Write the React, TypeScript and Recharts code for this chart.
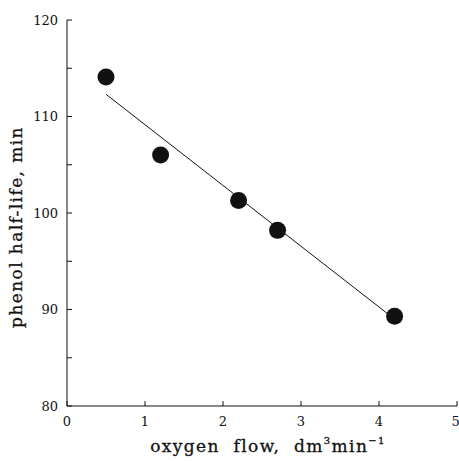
import { ComposedChart, Line, Scatter, XAxis, YAxis, Label } from "recharts";

// measured points: oxygen flow (dm3/min) vs phenol half-life (min)
const flow = [0.5, 1.2, 2.2, 2.7, 4.2];
const halfLife = [114.1, 106.0, 101.3, 98.2, 89.3];

// fitted line end points
const fitFlow = [0.5, 4.2];
const fitHalfLife = [112.3, 89.0];

const xTicks = [0, 1, 2, 3, 4, 5];
const yTicks = [80, 85, 90, 95, 100, 105, 110, 115, 120];

const points = flow.map((x, i) => ({ x, y: halfLife[i] }));
const fit = fitFlow.map((x, i) => ({ x, y: fitHalfLife[i] }));

const font = "'DejaVu Serif', 'Liberation Serif', serif";
const ink = "#111";

const Dot = (props: any) => <circle cx={props.cx} cy={props.cy} r={8.5} fill={ink} />;

const XTitle = (props: any) => {
  const vb = props.viewBox;
  return (
    <text
      x={vb.x + vb.width / 2 + 6}
      y={vb.y + 46}
      textAnchor="middle"
      fontFamily={font}
      fontSize={17}
      letterSpacing={1.4}
      fill={ink}
      stroke={ink}
      strokeWidth={0.3}
    >
      oxygen&#160; flow,&#160; dm
      <tspan fontSize={10} dy={-8}>3</tspan>
      <tspan dy={8}>min</tspan>
      <tspan fontSize={10} dy={-8}>−1</tspan>
    </text>
  );
};

const YTitle = (props: any) => {
  const vb = props.viewBox;
  const cx = 22;
  const cy = vb.y + vb.height / 2 + 14;
  return (
    <text
      x={cx}
      y={cy}
      transform={`rotate(-90 ${cx} ${cy})`}
      textAnchor="middle"
      fontFamily={font}
      fontSize={17}
      letterSpacing={1.4}
      fill={ink}
      stroke={ink}
      strokeWidth={0.3}
    >
      phenol half-life, min
    </text>
  );
};

const tickStyle = { fill: ink, fontFamily: font, fontSize: 13 };

export default function App() {
  return (
    <div style={{ position: "absolute", left: 0, top: 0, background: "#fff" }}>
      <ComposedChart width={459} height={461} margin={{ top: 20, right: 2, left: 0, bottom: 0 }}>
        <XAxis
          xAxisId="b"
          type="number"
          dataKey="x"
          domain={[0, 5]}
          ticks={xTicks}
          tickSize={-5}
          tickMargin={16}
          height={55}
          stroke={ink}
          tick={tickStyle}
        >
          <Label content={<XTitle />} />
        </XAxis>
        <XAxis xAxisId="t" orientation="top" type="number" dataKey="x" domain={[0, 5]} height={0} tick={false} tickLine={false} stroke="#555" />
        <YAxis
          yAxisId="l"
          type="number"
          dataKey="y"
          domain={[80, 120]}
          ticks={yTicks}
          tickSize={-5}
          tickMargin={14}
          width={67}
          stroke={ink}
          tickFormatter={(v: number) => (v % 10 === 0 ? String(v) : "")}
          tick={tickStyle}
        >
          <Label content={<YTitle />} />
        </YAxis>
        <YAxis yAxisId="r" orientation="right" type="number" dataKey="y" domain={[80, 120]} width={0} tick={false} tickLine={false} stroke="#555" />
        <Line
          xAxisId="b"
          yAxisId="l"
          data={fit}
          dataKey="y"
          type="linear"
          stroke={ink}
          strokeWidth={1}
          dot={false}
          activeDot={false}
          isAnimationActive={false}
        />
        <Scatter xAxisId="b" yAxisId="l" data={points} dataKey="y" shape={<Dot />} isAnimationActive={false} />
      </ComposedChart>
    </div>
  );
}
